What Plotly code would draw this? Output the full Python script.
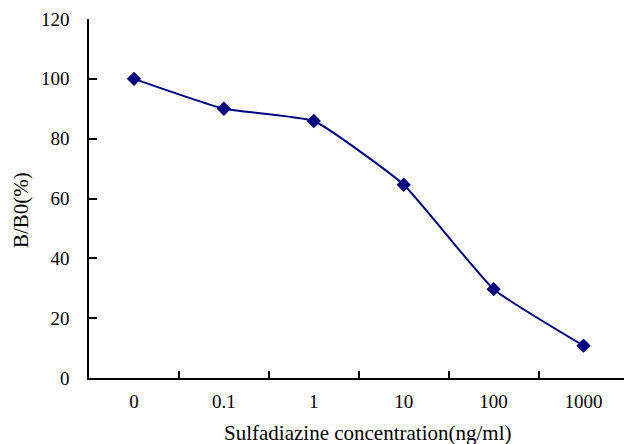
import plotly.graph_objects as go

categories = ["0", "0.1", "1", "10", "100", "1000"]
bb0_values = [100, 90.0, 85.9, 64.6, 29.7, 10.8]
y_ticks = [0, 20, 40, 60, 80, 100, 120]

fig = go.Figure()
fig.add_trace(go.Scatter(
    x=categories, y=bb0_values, mode="lines+markers",
    line=dict(color="#000080", width=2, shape="spline", smoothing=0.4),
    marker=dict(symbol="diamond", size=11, color="#000080"),
    showlegend=False,
))

serif = "Liberation Serif"
tick_font = dict(family=serif, size=19, color="black")
title_font = dict(family=serif, size=21, color="black")
fig.update_layout(
    width=624, height=444,
    margin=dict(l=89, r=0, t=19, b=66),
    plot_bgcolor="white", paper_bgcolor="white",
    font=tick_font,
    xaxis=dict(
        type="category", range=[-0.5, 5.45],
        showline=True, linecolor="black", linewidth=1.5,
        ticks="inside", tickson="boundaries", ticklen=7, tickcolor="black", tickwidth=1.5,
        showgrid=False, zeroline=False, ticklabelstandoff=5,
        tickfont=tick_font,
    ),
    yaxis=dict(
        range=[0, 120], tickvals=y_ticks,
        showline=True, linecolor="black", linewidth=1.5,
        ticks="inside", ticklen=8, tickcolor="black", tickwidth=1.5,
        showgrid=False, zeroline=False, ticklabelstandoff=14,
        tickfont=tick_font,
    ),
    annotations=[
        dict(text="Sulfadiazine concentration(ng/ml)", xref="paper", yref="paper",
             x=(367 - 89) / 535, y=-(433 - 378) / 359, xanchor="center", yanchor="middle",
             showarrow=False, font=title_font),
        dict(text="B/B0(%)", xref="paper", yref="paper",
             x=-(89 - 21) / 535, y=(378 - 210) / 359, xanchor="center", yanchor="middle",
             textangle=-90, showarrow=False, font=title_font),
    ],
)

fig.write_html("out.html", post_script="document.body.style.margin='0';document.body.style.overflow='hidden';",
               config={"displayModeBar": False})
